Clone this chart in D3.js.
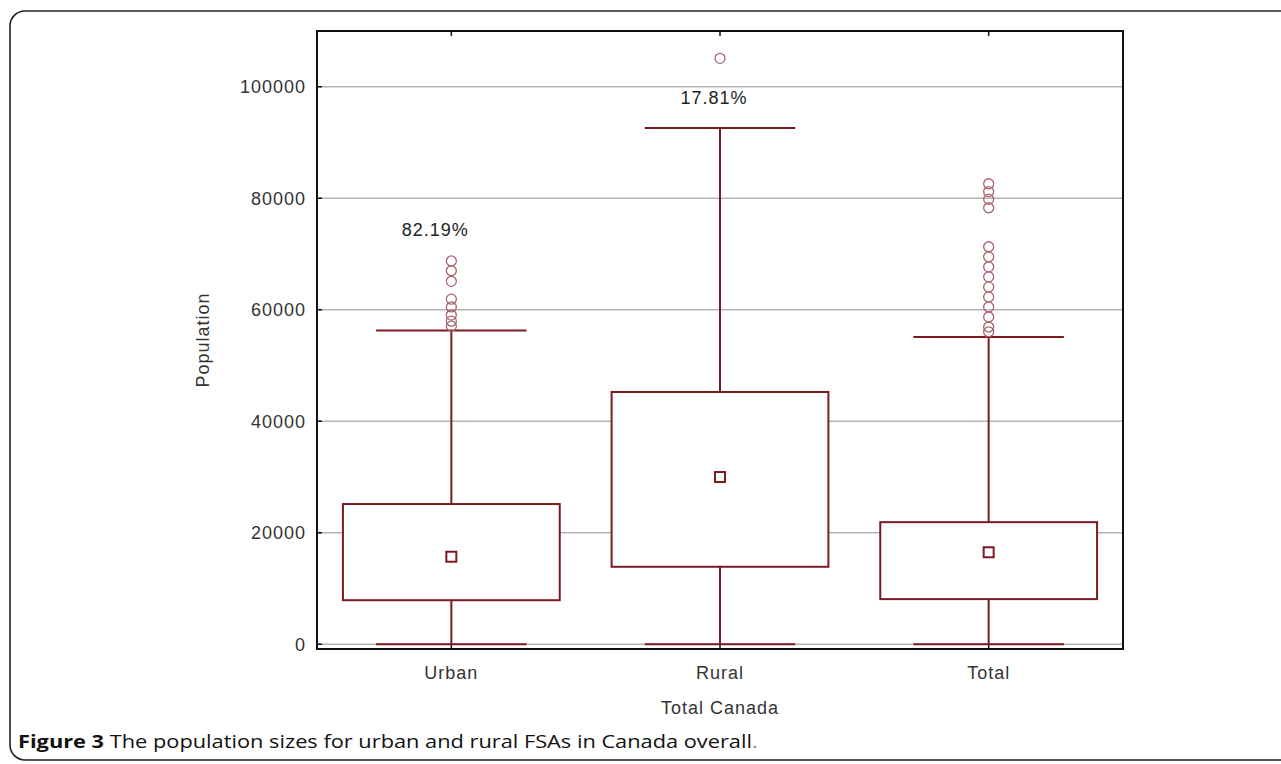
<!DOCTYPE html>
<html>
<head>
<meta charset="utf-8">
<script src="https://cdn.jsdelivr.net/npm/d3@7"></script>
<style>
  html, body { margin: 0; padding: 0; background: #fff; }
  svg { display: block; }
</style>
</head>
<body>
<svg id="chart" width="1281" height="764"></svg>
<script>
// Population of FSAs, Canada overall
const categories = ["Urban", "Rural", "Total"];
const lowerWhisker = [0, 0, 0];
const quartile1 = [7900, 13900, 8100];
const medians = [15700, 30000, 16500];
const quartile3 = [25150, 45250, 21900];
const upperWhisker = [56300, 92600, 55100];
const urbanOutliers = [68750, 67000, 65100, 61900, 60500, 59050, 57950, 57050];
const ruralOutliers = [105100];
const totalOutliers = [82600, 81200, 79800, 78300, 71300, 69500, 67700, 65900, 64100, 62300, 60500, 58700, 56900, 56050];
const shareLabels = ["82.19%", "17.81%", null];
const shareLabelValues = [73200, 96900, null];
const yTicks = [0, 20000, 40000, 60000, 80000, 100000];

const outliers = [urbanOutliers, ruralOutliers, totalOutliers];

const svg = d3.select("#chart");
const plot = { left: 317, right: 1123, top: 31, bottom: 649 };

const boxColor = "#7b1a21";
const outlierColor = "#a8646b";
const fontAxis = "'Liberation Sans', Arial, sans-serif";
const axisFontSize = 18;
const axisSpacing = 1;

// Rounded panel frame
svg.append("rect")
  .attr("x", 10).attr("y", 11)
  .attr("width", 1300).attr("height", 749)
  .attr("rx", 15).attr("ry", 15)
  .attr("fill", "none").attr("stroke", "#222").attr("stroke-width", 1.6);

const x = d3.scaleBand().domain(categories).range([plot.left, plot.right]);
const y = d3.scaleLinear().domain([-850, 110000]).range([plot.bottom, plot.top]);

const g = svg.append("g");

// Horizontal gridlines
g.selectAll("line.grid").data(yTicks).join("line")
  .attr("class", "grid")
  .attr("x1", plot.left).attr("x2", plot.right)
  .attr("y1", d => y(d)).attr("y2", d => y(d))
  .attr("stroke", "#b4b4b4").attr("stroke-width", 1.5);

// Y axis labels and ticks
const yAxis = d3.axisLeft(y).tickValues(yTicks).tickSize(0).tickPadding(11).tickFormat(d3.format("d"));
const ya = svg.append("g").attr("transform", `translate(${plot.left},0)`).call(yAxis);
ya.select(".domain").remove();
ya.selectAll("text")
  .attr("font-family", fontAxis).attr("font-size", axisFontSize)
  .attr("letter-spacing", axisSpacing).attr("fill", "#333");
g.selectAll("line.ytick").data(yTicks).join("line")
  .attr("x1", plot.left).attr("x2", plot.left + 5)
  .attr("y1", d => y(d)).attr("y2", d => y(d))
  .attr("stroke", "#111").attr("stroke-width", 1.5);

// X axis labels
const xAxis = d3.axisBottom(x).tickSize(0).tickPadding(17);
const xa = svg.append("g").attr("transform", `translate(0,${plot.bottom})`).call(xAxis);
xa.select(".domain").remove();
xa.selectAll("text")
  .attr("font-family", fontAxis).attr("font-size", axisFontSize)
  .attr("letter-spacing", axisSpacing).attr("fill", "#333");
// Small ticks on top and bottom edges at category centres
categories.forEach(c => {
  const cx = x(c) + x.bandwidth() / 2;
  g.append("line").attr("x1", cx).attr("x2", cx).attr("y1", plot.top).attr("y2", plot.top + 5)
    .attr("stroke", "#111").attr("stroke-width", 1.5);
  g.append("line").attr("x1", cx).attr("x2", cx).attr("y1", plot.bottom).attr("y2", plot.bottom - 5)
    .attr("stroke", "#111").attr("stroke-width", 1.5);
});

// Axis titles
svg.append("text")
  .attr("x", (plot.left + plot.right) / 2).attr("y", 714)
  .attr("text-anchor", "middle")
  .attr("font-family", fontAxis).attr("font-size", axisFontSize)
  .attr("letter-spacing", axisSpacing).attr("fill", "#333")
  .text("Total Canada");
svg.append("text")
  .attr("transform", `translate(209,${(plot.top + plot.bottom) / 2}) rotate(-90)`)
  .attr("text-anchor", "middle")
  .attr("font-family", fontAxis).attr("font-size", axisFontSize)
  .attr("letter-spacing", axisSpacing).attr("fill", "#333")
  .text("Population");

// Box plots
const boxW = x.bandwidth() * 0.807;
const capW = x.bandwidth() * 0.56;
categories.forEach((c, i) => {
  const cx = x(c) + x.bandwidth() / 2;
  const bg = g.append("g");
  // whisker line
  bg.append("line").attr("x1", cx).attr("x2", cx)
    .attr("y1", y(lowerWhisker[i])).attr("y2", y(upperWhisker[i]))
    .attr("stroke", boxColor).attr("stroke-width", 2);
  // caps
  [lowerWhisker[i], upperWhisker[i]].forEach(v => {
    bg.append("line").attr("x1", cx - capW / 2).attr("x2", cx + capW / 2)
      .attr("y1", y(v)).attr("y2", y(v))
      .attr("stroke", boxColor).attr("stroke-width", 2);
  });
  // box
  bg.append("rect")
    .attr("x", cx - boxW / 2).attr("width", boxW)
    .attr("y", y(quartile3[i])).attr("height", y(quartile1[i]) - y(quartile3[i]))
    .attr("fill", "#fff").attr("stroke", boxColor).attr("stroke-width", 2);
  // median marker
  bg.append("rect")
    .attr("x", cx - 5).attr("y", y(medians[i]) - 5)
    .attr("width", 10).attr("height", 10)
    .attr("fill", "#fff").attr("stroke", boxColor).attr("stroke-width", 2);
  // outliers
  bg.selectAll("circle").data(outliers[i]).join("circle")
    .attr("cx", cx).attr("cy", d => y(d)).attr("r", 5)
    .attr("fill", "none").attr("stroke", outlierColor).attr("stroke-width", 1.3);
  // share label
  if (shareLabels[i]) {
    svg.append("text")
      .attr("x", cx - (i === 0 ? 16 : 6)).attr("y", y(shareLabelValues[i]))
      .attr("text-anchor", "middle")
      .attr("font-family", fontAxis).attr("font-size", axisFontSize)
      .attr("letter-spacing", axisSpacing).attr("fill", "#222")
      .text(shareLabels[i]);
  }
});

// Plot frame
svg.append("rect")
  .attr("x", plot.left).attr("y", plot.top)
  .attr("width", plot.right - plot.left).attr("height", plot.bottom - plot.top)
  .attr("fill", "none").attr("stroke", "#111").attr("stroke-width", 2);

// Caption
const cap = svg.append("text")
  .attr("transform", "translate(18,748) scale(1.245,1)")
  .attr("font-family", "'Open Sans', 'Noto Sans', sans-serif")
  .attr("font-size", 17.5).attr("fill", "#111");
cap.append("tspan").attr("font-weight", "bold").text("Figure 3");
cap.append("tspan").text(" The population sizes for urban and rural FSAs in Canada overall");
cap.append("tspan").attr("fill", "#888").text(".");
</script>
</body>
</html>
